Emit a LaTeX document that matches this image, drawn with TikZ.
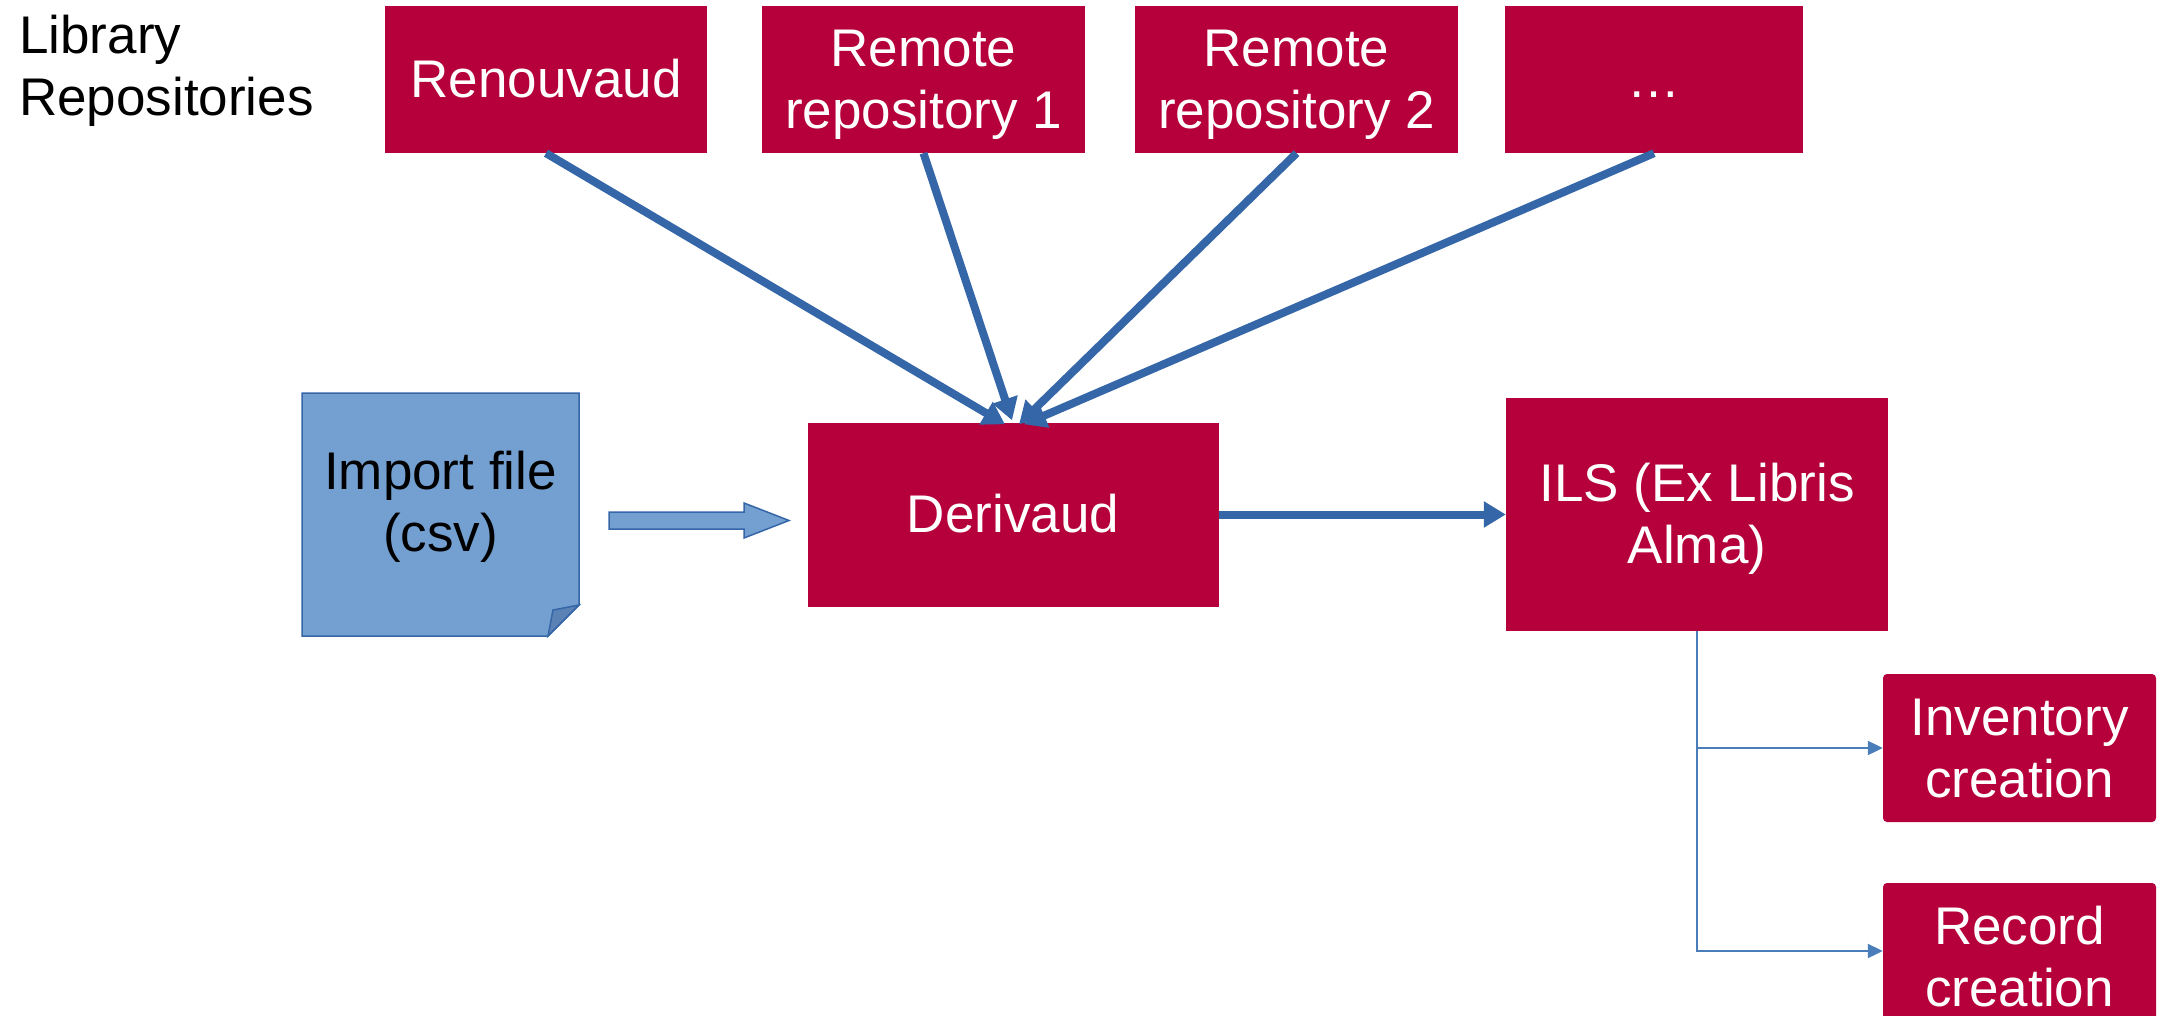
\documentclass[tikz,border=0pt]{standalone}
\usepackage{fontspec}
\setmainfont{Liberation Sans}
\usetikzlibrary{arrows.meta,calc}
\definecolor{boxred}{HTML}{B5003B}
\definecolor{arrblue}{HTML}{3566A8}
\definecolor{thinblue}{HTML}{4A7EBB}
\definecolor{filefill}{HTML}{73A0D0}
\definecolor{folddark}{HTML}{5B82B5}
\newcommand\pst{\rule[-0.212em]{0pt}{1.117em}}
\begin{document}
\begin{tikzpicture}[x=1pt,y=-1pt,
  every node/.style={font=\fontsize{53}{62}\selectfont, align=center, inner sep=0pt},
  redbox/.style={fill=boxred, text=white, minimum height=147pt},
  smallbox/.style={fill=boxred, text=white, rounded corners=4pt, minimum width=273pt, minimum height=148pt},
  thickarr/.style={draw=arrblue, line width=8pt, -{Triangle[length=22pt,width=25pt]}},
  thinarr/.style={draw=thinblue, line width=2pt, -{Triangle[length=15pt,width=14pt]}}]
\useasboundingbox (0,0) rectangle (2165,1016);
\clip (0,0) rectangle (2165,1016);
% library label
\node[anchor=west, align=left] (lib) at (19,66) {\pst Library\\\pst Repositories};
% top boxes
\node[redbox, minimum width=322pt] (ren) at (546,79.5) {\pst Renouvaud};
\node[redbox, minimum width=323pt] (rr1) at (923.5,79.5) {\pst Remote\\\pst repository 1};
\node[redbox, minimum width=323pt] (rr2) at (1296.5,79.5) {\pst Remote\\\pst repository 2};
\node[redbox, minimum width=298pt] (dots) at (1654,79.5) {\pst\dots};
% middle
\node[redbox, minimum width=411pt, minimum height=184pt] (der) at (1013,514.5) {\pst Derivaud};
\node[redbox, minimum width=382pt, minimum height=233pt] (ils) at (1697,514.5) {\pst ILS (Ex Libris\\\pst Alma)};
\node[smallbox] (inv) at (2019.5,748) {\pst Inventory\\\pst creation};
\node[smallbox] (rec) at (2019.5,957) {\pst Record\\\pst creation};
% import file
\draw[fill=filefill, draw=arrblue, line width=1.5pt] (302,393) -- (579,393) -- (579,605) -- (548,636) -- (302,636) -- cycle;
\draw[fill=folddark, draw=arrblue, line width=1.5pt] (548,636) -- (553,610) -- (579,605) -- cycle;
\node (imp) at (440.5,502) {\pst Import file\\\pst (csv)};
% block arrow
\draw[fill=filefill, draw=arrblue, line width=1.5pt] (609,512) -- (744,512) -- (744,503) -- (789,520.5) -- (744,538) -- (744,529) -- (609,529) -- cycle;
% converging arrows
\draw[thickarr] (ren.south) -- ([xshift=-8pt,yshift=-2pt]der.north);
\draw[thickarr] (rr1.south) -- ([xshift=-1pt,yshift=2pt]der.north);
\draw[thickarr] (rr2.south) -- ([xshift=6pt,yshift=-2pt]der.north);
\draw[thickarr] (dots.south) -- ([xshift=11pt,yshift=-2pt]der.north);
% derivaud to ILS
\draw[thickarr] (der.east) -- (der.east -| ils.west);
% ILS branches
\draw[thinarr] (ils.south) |- (inv.west);
\draw[thinarr] (ils.south) |- ([yshift=6pt]rec.west);
\end{tikzpicture}
\end{document}
